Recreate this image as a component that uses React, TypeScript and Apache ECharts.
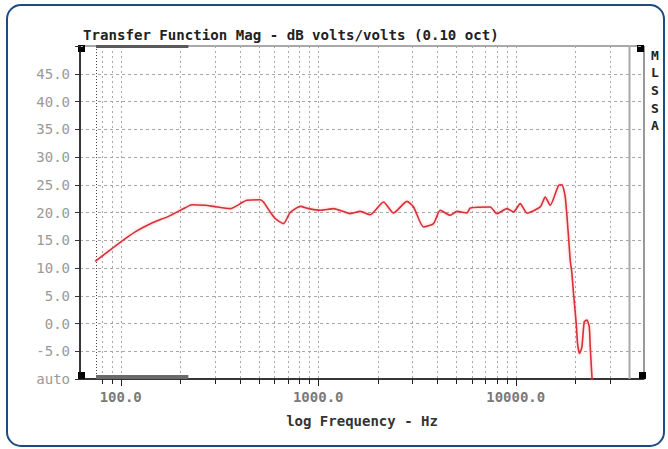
import { useEffect, useRef } from 'react';
import * as echarts from 'echarts';

// ---- data ----
const freqs = [74.3, 97.5, 118.4, 143.9, 174.6, 212, 229, 268, 295, 358, 435, 508, 528, 571, 606, 667, 721, 811, 893, 1024, 1196, 1452, 1632, 1834, 2141, 2406, 2812, 3038, 3414, 3836, 4147, 4661, 5040, 5663, 5884, 7430, 8034, 9024, 9748, 10540, 11398, 13311, 14108, 14955, 16476, 17135, 17810, 18510, 18880, 19258, 19620, 20250, 20560, 21037, 21637, 22228, 22940, 23568, 23840, 24318, 24600];
const mags = [11.2, 14.4, 16.5, 18.1, 19.3, 20.85, 21.4, 21.3, 21.1, 20.7, 22.2, 22.3, 21.9, 20.1, 18.9, 18.0, 20.0, 21.1, 20.7, 20.4, 20.7, 19.8, 20.2, 19.6, 21.9, 19.9, 22.0, 21.0, 17.4, 18.0, 20.4, 19.5, 20.2, 19.9, 20.8, 21.0, 19.8, 20.7, 20.1, 21.6, 19.9, 21.0, 22.8, 21.3, 24.9, 25.0, 22.8, 15.6, 11.4, 9.0, 5.4, 0.0, -3.6, -5.4, -4.2, 0.3, 0.6, -0.6, -4.2, -9.6, -12];
const gridFreqs = [80, 90, 100, 200, 300, 400, 500, 600, 700, 800, 900, 1000, 2000, 3000, 4000, 5000, 6000, 7000, 8000, 9000, 10000, 20000, 30000];
const startMarkerFreq = 75;
const endMarkerFreq = 37600;
const rangeBar = [75, 220];
const xMin = 62.2;
const xMax = 44620;
const yMin = -10;
const yMax = 50;
const yStep = 5;
const titleText = 'Transfer Function Mag - dB volts/volts (0.10 oct)';
const xName = 'log Frequency - Hz';
const sideLetters = ['M', 'L', 'S', 'S', 'A'];

const MONO = '"DejaVu Sans Mono", "Liberation Mono", monospace';
const GL = 80, GT = 46, GR = 644, GB = 379;

export default function App() {
  const ref = useRef<HTMLDivElement>(null);
  useEffect(() => {
    const chart = echarts.init(ref.current!, null, { renderer: 'svg' });
    const isPow10 = (v: number) => Math.abs(Math.log10(v) - Math.round(Math.log10(v))) < 1e-6;
    const option: any = {
      animation: false,
      backgroundColor: '#ffffff',
      grid: { left: GL, top: GT, right: 668 - GR, bottom: 449 - GB, show: true, borderColor: '#555', borderWidth: 1 },
      xAxis: {
        type: 'log', logBase: 10, min: xMin, max: xMax,
        axisLine: { show: true, onZero: false, lineStyle: { color: '#111', width: 1.5 } },
        axisTick: { show: false },
        splitLine: { show: false },
        axisLabel: {
          margin: 11, color: '#7a7a7a', fontFamily: MONO, fontSize: 14, fontWeight: 'bold',
          formatter: (v: number) => (isPow10(v) && v > xMin * 1.01 && v < xMax * 0.99 ? (Math.round(v)).toFixed(1) : ''),
        },
        name: xName, nameLocation: 'middle', nameGap: 35,
        nameTextStyle: { color: '#333', fontFamily: MONO, fontSize: 14, fontWeight: 'bold' },
      },
      yAxis: {
        type: 'value', min: yMin, max: yMax, interval: yStep,
        axisLine: { show: true, lineStyle: { color: '#111', width: 1.5 } },
        axisTick: { show: true, length: 5, lineStyle: { color: '#333' } },
        splitLine: { show: true, lineStyle: { color: '#a8a8a8', type: [3, 3], width: 1 } },
        axisLabel: {
          margin: 10, color: '#999999', fontFamily: MONO, fontSize: 14,
          formatter: (v: number) => (v === yMin ? 'auto' : v === yMax ? '' : v.toFixed(1)),
        },
      },
      series: [
        {
          type: 'custom', silent: true, z: 1,
          encode: { x: 0, y: 1 },
          data: gridFreqs.map((f) => [f, 0]),
          renderItem: (_p: any, api: any) => {
            const f = api.value(0);
            const top = api.coord([f, yMax]);
            const bot = api.coord([f, yMin]);
            const x = Math.round(top[0]) + 0.5;
            return {
              type: 'group',
              children: [
                { type: 'line', shape: { x1: x, y1: top[1], x2: x, y2: bot[1] }, style: { stroke: '#a8a8a8', lineWidth: 1, lineDash: [2, 3] } },
                { type: 'line', shape: { x1: x, y1: bot[1], x2: x, y2: bot[1] + (isPow10(f) ? 7 : 5) }, style: { stroke: '#222', lineWidth: 1 } },
              ],
            };
          },
        },
        {
          type: 'custom', silent: true, z: 2,
          encode: { x: 0, y: 1 },
          data: [[startMarkerFreq, 0, 0], [endMarkerFreq, 0, 1]],
          renderItem: (_p: any, api: any) => {
            const f = api.value(0);
            const kind = api.value(2);
            const top = api.coord([f, yMax]);
            const bot = api.coord([f, yMin]);
            const x = Math.round(top[0]) + 0.5;
            return kind === 0
              ? { type: 'line', shape: { x1: x, y1: top[1], x2: x, y2: bot[1] }, style: { stroke: '#444', lineWidth: 1, lineDash: [1, 2] } }
              : { type: 'line', shape: { x1: x, y1: top[1], x2: x, y2: bot[1] }, style: { stroke: '#aaaaaa', lineWidth: 2 } };
          },
        },
        {
          type: 'custom', silent: true, z: 3,
          encode: { x: 0, y: 1 },
          data: [[rangeBar[0], rangeBar[1]]],
          renderItem: (_p: any, api: any) => {
            const a = api.coord([api.value(0), yMax]);
            const b = api.coord([api.value(1), yMin]);
            return {
              type: 'group',
              children: [
                { type: 'rect', shape: { x: a[0], y: a[1] - 1, width: b[0] - a[0], height: 3 }, style: { fill: '#5a5a5a' } },
                { type: 'rect', shape: { x: a[0], y: b[1] - 4, width: b[0] - a[0], height: 4 }, style: { fill: '#6a6a6a' } },
              ],
            };
          },
        },
        {
          type: 'line', z: 5,
          data: freqs.map((f, i) => [f, mags[i]]),
          showSymbol: false, symbol: 'none', smooth: 0.2, clip: true,
          lineStyle: { color: '#d6303a', width: 1.6, shadowColor: 'rgba(255,90,90,0.45)', shadowBlur: 3 },
        },
      ],
      graphic: [
        { type: 'rect', shape: { x: 7, y: 5, width: 657, height: 441, r: 14 }, style: { fill: 'none', stroke: '#1d4a80', lineWidth: 2 } },
        { type: 'text', style: { x: 83, y: 35, text: titleText, font: `bold 14.1px ${MONO}`, fill: '#222', verticalAlign: 'middle', align: 'left' } },
        { type: 'rect', shape: { x: GR - 1, y: GT, width: 2, height: GB - GT }, style: { fill: '#999' } },
        { type: 'rect', shape: { x: 78, y: 45, width: 7, height: 7 }, style: { fill: '#000' } },
        { type: 'rect', shape: { x: 637, y: 45, width: 7, height: 7 }, style: { fill: '#000' } },
        { type: 'rect', shape: { x: 78, y: 372, width: 7, height: 7 }, style: { fill: '#000' } },
        { type: 'rect', shape: { x: 639, y: 372, width: 7, height: 7 }, style: { fill: '#000' } },
        ...sideLetters.map((ch, i) => ({
          type: 'text',
          style: { x: 655, y: 55 + i * 17.7, text: ch, font: `bold 13px ${MONO}`, fill: '#222', align: 'center', verticalAlign: 'middle' },
        })),
      ],
    };
    chart.setOption(option);
    return () => chart.dispose();
  }, []);
  return <div ref={ref} style={{ position: 'absolute', left: 0, top: 0, width: 668, height: 449 }} />;
}
